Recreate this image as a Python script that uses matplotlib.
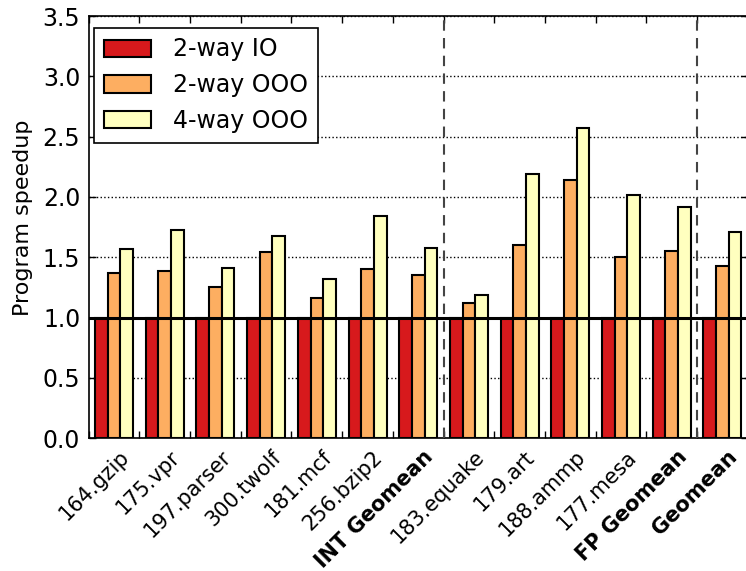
import matplotlib
matplotlib.use("Agg")
import matplotlib.pyplot as plt
import numpy as np

benchmarks = ["164.gzip", "175.vpr", "197.parser", "300.twolf", "181.mcf",
              "256.bzip2", "INT Geomean", "183.equake", "179.art", "188.ammp",
              "177.mesa", "FP Geomean", "Geomean"]
bold_labels = ["INT Geomean", "FP Geomean", "Geomean"]
series_names = ["2-way IO", "2-way OOO", "4-way OOO"]
io2 = [1.0] * 13
ooo2 = [1.37, 1.39, 1.25, 1.54, 1.16, 1.40, 1.35, 1.12, 1.60, 2.14, 1.50, 1.55, 1.43]
ooo4 = [1.57, 1.73, 1.41, 1.68, 1.32, 1.84, 1.58, 1.19, 2.19, 2.57, 2.02, 1.92, 1.71]
colors = ["#d7191c", "#fdae61", "#ffffbf"]
yticks = [0.0, 0.5, 1.0, 1.5, 2.0, 2.5, 3.0, 3.5]

plt.rcParams["font.family"] = "DejaVu Sans"

W, H = 746, 571
fig = plt.figure(figsize=(W / 100, H / 100), dpi=100)
ax_l, ax_r, ax_t, ax_b = 88.7, 747.8, 16.0, 438.3
ax = fig.add_axes([ax_l / W, 1 - ax_b / H, (ax_r - ax_l) / W, (ax_b - ax_t) / H])

n = len(benchmarks)
ind = np.arange(n)
width = 0.25
for k, vals in enumerate([io2, ooo2, ooo4]):
    ax.bar(ind + k * width, vals, width, align="edge", color=colors[k],
           edgecolor="black", linewidth=1.5, label=series_names[k], zorder=2)

ax.axhline(1.0, color="black", linewidth=2.2, zorder=4)
for xv in [6.875, 11.875]:
    ax.axvline(xv, color="#444444", linewidth=1.5, linestyle=(0, (5, 3.5)), zorder=3)

ax.set_xlim(-0.125, n - 0.125)
ax.set_ylim(0, 3.5)
ax.set_yticks(yticks)
ax.set_yticklabels(["%.1f" % v for v in yticks], fontsize=17)
ax.yaxis.grid(True, linestyle=":", color="black", linewidth=1.0)
ax.set_axisbelow(True)

ax.set_xticks(ind + 0.75)
ax.set_xticks(np.arange(n + 1) - 0.125, minor=True)
lbls = ax.set_xticklabels(benchmarks, rotation=45, ha="right", fontsize=15)
for t in lbls:
    if t.get_text() in bold_labels:
        t.set_fontweight("bold")

ax.tick_params(axis="both", which="both", direction="in", top=True, right=True,
               length=5, width=1)
ax.tick_params(axis="x", which="major", length=0, pad=6)
ax.tick_params(axis="y", pad=6)
ax.set_ylabel("Program speedup", fontsize=16)
ax.yaxis.set_label_coords((33 - ax_l) / (ax_r - ax_l), 0.523)
for s in ax.spines.values():
    s.set_linewidth(1.2)

leg = ax.legend(loc="upper left", fontsize=17, fancybox=False, framealpha=1,
                edgecolor="black", handlelength=2.0, handleheight=0.75,
                borderpad=0.4, labelspacing=0.5, handletextpad=0.95,
                borderaxespad=0,
                bbox_to_anchor=((94.3 - ax_l) / (ax_r - ax_l),
                                1 - (28 - ax_t) / (ax_b - ax_t)))
leg.get_frame().set_linewidth(1.2)

fig.savefig("out.png", dpi=100)
